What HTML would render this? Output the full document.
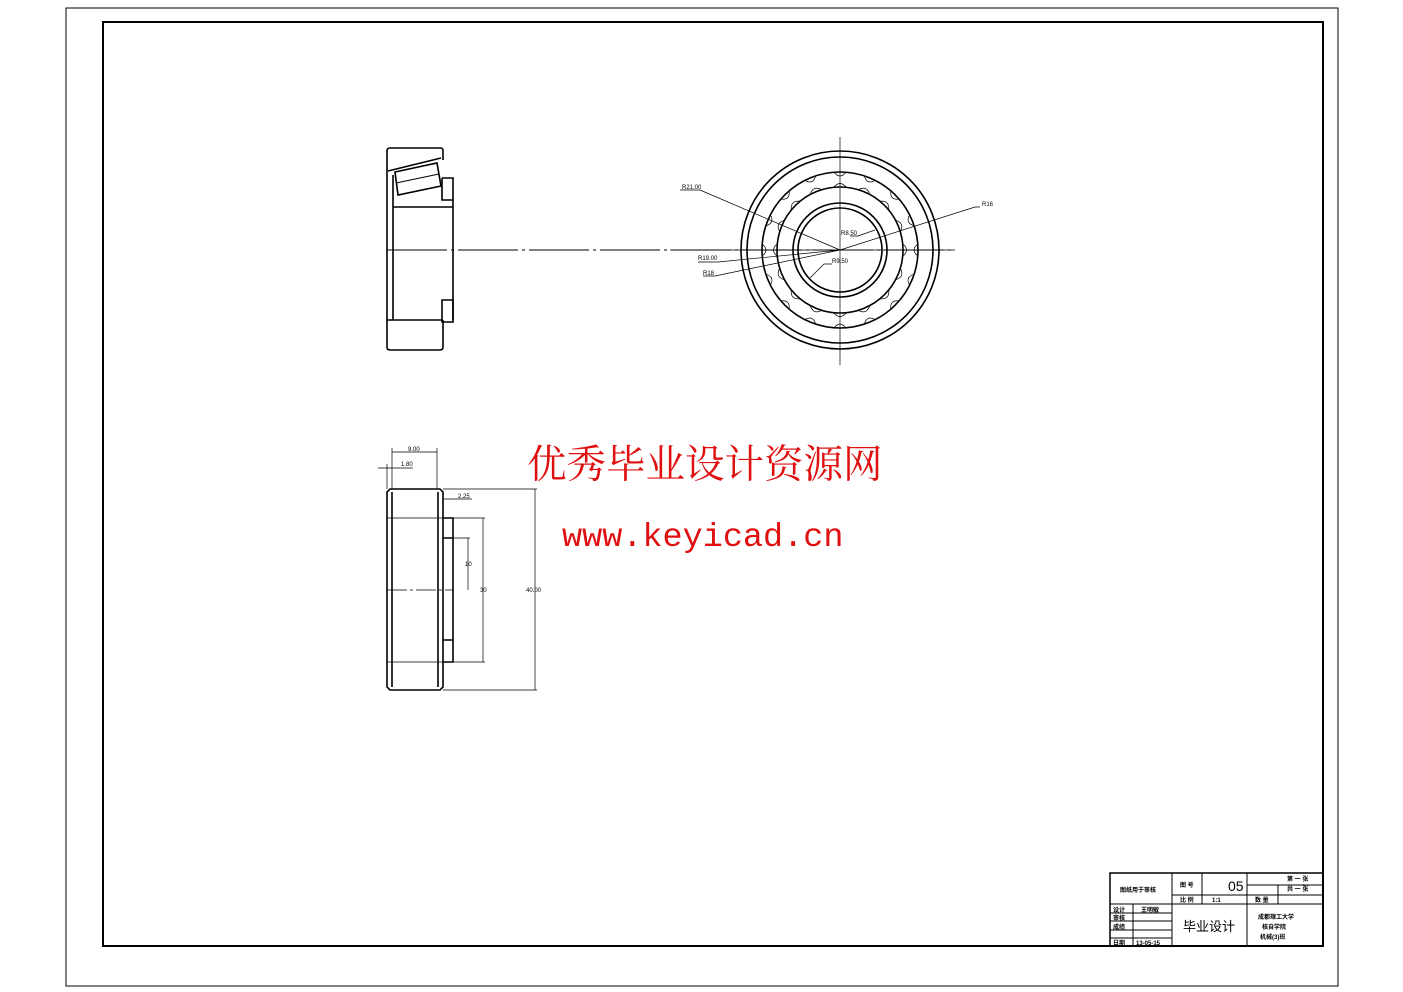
<!DOCTYPE html>
<html><head><meta charset="utf-8"><style>body{margin:0;background:#fff}svg{display:block}</style></head><body>
<svg width="1403" height="992" viewBox="0 0 1403 992" xmlns="http://www.w3.org/2000/svg" font-family="Liberation Sans, Noto Sans CJK SC, sans-serif">
<rect x="66" y="8" width="1272" height="978" fill="none" stroke="#000" stroke-width="1"/>
<rect x="103" y="22" width="1220" height="924" fill="none" stroke="#000" stroke-width="2"/>
<g fill="none" stroke="#000" stroke-width="1.6">
<path d="M387 200 V151 Q387 148 390 148 H441 Q443 148 443 151 V160 M387 151 V347 Q387 350 390 350 H440 Q443 350 443 347 V320"/>
<path d="M388 171 L441 158"/>
<path d="M395 172 L437 163 L441 186 L398 195 Z"/>
<path d="M396 183 L439 174" stroke-width="1"/>
<path d="M393 175 V320 M393 207 H453 V320 M442 178 H453 V207 M442 178 V200 H453"/>
<path d="M442 300 H453 V322 H442 Z M387 320 H443"/>
</g>
<line x1="387" y1="250" x2="955" y2="250" stroke="#000" stroke-width="1" stroke-dasharray="60 4 3 4"/>
<g fill="none" stroke="#000" stroke-width="1.6">
<circle cx="840" cy="250" r="99"/><circle cx="840" cy="250" r="93"/>
<circle cx="840" cy="250" r="78"/><circle cx="840" cy="250" r="63"/>
<circle cx="840" cy="250" r="47"/><circle cx="840" cy="250" r="42"/>
</g>
<g fill="none" stroke="#000" stroke-width="0.7">
<path d="M840 137 V365 M670 250 H955"/>
<g id="rl">
<path d="M834 172 Q840 180 846 172 M834 187 Q840 180 846 187"/>
</g>
<use href="#rl" transform="rotate(22.5 840 250)"/><use href="#rl" transform="rotate(45 840 250)"/><use href="#rl" transform="rotate(67.5 840 250)"/>
<use href="#rl" transform="rotate(90 840 250)"/><use href="#rl" transform="rotate(112.5 840 250)"/><use href="#rl" transform="rotate(135 840 250)"/>
<use href="#rl" transform="rotate(157.5 840 250)"/><use href="#rl" transform="rotate(180 840 250)"/><use href="#rl" transform="rotate(202.5 840 250)"/>
<use href="#rl" transform="rotate(225 840 250)"/><use href="#rl" transform="rotate(247.5 840 250)"/><use href="#rl" transform="rotate(270 840 250)"/>
<use href="#rl" transform="rotate(292.5 840 250)"/><use href="#rl" transform="rotate(315 840 250)"/><use href="#rl" transform="rotate(337.5 840 250)"/>
<path d="M680 190 H700 L840 250 M980 207 H975 L840 250 M698 262 H718 L840 250 M703 276 H715 L840 250 M850 236 H858 L875 230 M832 264 H824 L810 278"/>
</g>
<g font-size="6" fill="#000">
<text x="682" y="189">R21.00</text><text x="982" y="206">R16</text>
<text x="698" y="260">R19.00</text><text x="703" y="275">R18</text>
<text x="841" y="235">R8.50</text><text x="832" y="263">R9.50</text>
</g>
<g fill="none" stroke="#000" stroke-width="1.6">
<path d="M390 489 H440 L443 492 V687 L440 690 H390 L387 687 V492 Z"/>
<path d="M392 492 V687 M438 492 V687"/>
<path d="M443 518 H453 V662 H443 M443 538 H453 M443 640 H453"/>
</g>
<g fill="none" stroke="#000" stroke-width="0.7">
<path d="M387 518 H443 M387 662 H443 M443 489 H537 M443 690 H537 M453 518 H485 M453 662 H485 M453 538 H470"/>
<path d="M392 452 H437 M392 448 V489 M437 448 V489 M378 468 H413 M387 464 V489 M443 495 V510 M443 499 H472 M468 538 V590 M483 518 V662 M535 489 V690"/>
</g>
<line x1="387" y1="590" x2="453" y2="590" stroke="#000" stroke-width="0.7" stroke-dasharray="20 3 3 3"/>
<g font-size="6" fill="#000">
<text x="408" y="451">9.00</text><text x="401" y="466">1.80</text><text x="458" y="498">2.25</text>
<text x="465" y="566">10</text><text x="480" y="592">30</text><text x="526" y="592">40.00</text>
</g>
<text x="527" y="478" font-size="39.5" fill="#e01010" font-family="Liberation Serif, Noto Serif CJK SC, serif">优秀毕业设计资源网</text>
<text x="562" y="546" font-size="33.5" fill="#e01010" font-family="Liberation Mono, monospace">www.keyicad.cn</text>
<g fill="none" stroke="#000" stroke-width="1">
<rect x="1110" y="873" width="213" height="73" stroke-width="1.5"/>
<path d="M1172 873 V946 M1202 873 V904 M1247 873 V946 M1278 885 V904 M1110 904 H1323 M1172 895 H1323 M1247 885 H1323 M1110 913 H1172 M1110 921 H1172 M1110 930 H1172 M1110 938 H1172 M1133 904 V946"/>
</g>
<g font-size="6" fill="#000" font-weight="bold">
<text x="1120" y="892">图纸用于审核</text>
<text x="1180" y="887">图 号</text><text x="1180" y="902">比 例</text>
<text x="1212" y="902">1:1</text><text x="1255" y="902">数 量</text>
<text x="1287" y="881">第 一 张</text><text x="1287" y="891">共 一 张</text>
<text x="1113" y="912">设计</text><text x="1141" y="912">王明敏</text>
<text x="1113" y="920">审核</text><text x="1113" y="929">成绩</text>
<text x="1113" y="945">日期</text><text x="1136" y="945">13-05-15</text>
<text x="1258" y="919">成都理工大学</text><text x="1262" y="929">核自学院</text><text x="1260" y="939">机械(3)班</text>
</g>
<text x="1228" y="891" font-size="14" fill="#000">05</text>
<text x="1183" y="931" font-size="13" fill="#000">毕业设计</text>
</svg>
</body></html>
